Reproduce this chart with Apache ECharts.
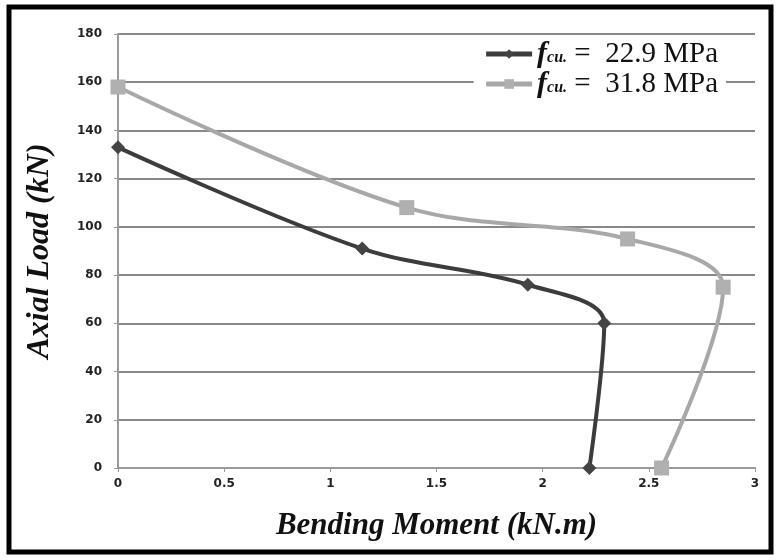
<!DOCTYPE html>
<html>
<head>
<meta charset="utf-8">
<script src="https://cdn.jsdelivr.net/npm/echarts@6/dist/echarts.min.js"></script>
<style>
html,body{margin:0;padding:0;background:#fff;}
#chart{width:776px;height:560px;}
</style>
</head>
<body>
<div id="chart"></div>
<script>
var xTicks = [0, 0.5, 1, 1.5, 2, 2.5, 3];
var yTicks = [0, 20, 40, 60, 80, 100, 120, 140, 160, 180];
var seriesNames = ['fcu. = 22.9 MPa', 'fcu. = 31.8 MPa'];
var moment229 = [0, 1.15, 1.93, 2.29, 2.22];
var load229 = [133, 91, 76, 60, 0];
var moment318 = [0, 1.36, 2.40, 2.85, 2.56];
var load318 = [158, 108, 95, 75, 0];

function pairs(xs, ys) {
    var out = [];
    for (var i = 0; i < xs.length; i++) out.push([xs[i], ys[i]]);
    return out;
}

(function(){
    var myChart = echarts.init(document.getElementById('chart'));
    var option = {
        backgroundColor: '#fff',
        animation: false,
        grid: { left: 118, right: 21, top: 34, bottom: 92 },
        graphic: [
            {
                type: 'rect',
                shape: { x: 9, y: 7, width: 762, height: 545 },
                style: { fill: 'none', stroke: '#000', lineWidth: 5 },
                z: 100
            }
        ],
        legend: {
            right: 50,
            top: 35,
            orient: 'vertical',
            backgroundColor: '#fff',
            padding: [4, 8, 4, 10],
            itemGap: 0,
            itemWidth: 46,
            itemHeight: 12,
            lineStyle: { width: 5 },
            data: seriesNames,
            formatter: function (name) {
                return '{f|f}{s|cu.}{t| ' + name.replace('fcu. ', '').replace('= ', '=  ') + '}';
            },
            textStyle: {
                rich: {
                    f: { fontFamily: 'Liberation Serif', fontStyle: 'italic', fontWeight: 'bold', fontSize: 30, lineHeight: 32, color: '#111' },
                    s: { fontFamily: 'Liberation Serif', fontStyle: 'italic', fontWeight: 'bold', fontSize: 16, lineHeight: 32, color: '#111', padding: [8, 0, 0, 0] },
                    t: { fontFamily: 'Liberation Serif', fontSize: 29, lineHeight: 32, color: '#111' }
                }
            }
        },
        xAxis: {
            type: 'value',
            min: 0,
            max: 3,
            interval: 0.5,
            name: 'Bending Moment (kN.m)',
            nameLocation: 'middle',
            nameGap: 42,
            nameTextStyle: { fontFamily: 'Liberation Serif', fontStyle: 'italic', fontWeight: 'bold', fontSize: 31, color: '#111' },
            axisLine: { show: true, lineStyle: { color: '#999', width: 2 } },
            axisTick: { show: true, length: 4, lineStyle: { color: '#999' } },
            axisLabel: {
                margin: 10,
                fontFamily: 'DejaVu Sans',
                fontWeight: 'bold',
                fontSize: 12,
                color: '#222',
                formatter: function (v) { return xTicks.indexOf(v) >= 0 ? String(v) : ''; }
            },
            splitLine: { show: false }
        },
        yAxis: {
            type: 'value',
            min: 0,
            max: 180,
            interval: 20,
            name: 'Axial Load (kN)',
            nameLocation: 'middle',
            nameGap: 62,
            nameTextStyle: { fontFamily: 'Liberation Serif', fontStyle: 'italic', fontWeight: 'bold', fontSize: 32, color: '#111' },
            axisLine: { show: true, lineStyle: { color: '#999', width: 2 } },
            axisTick: { show: true, length: 4, lineStyle: { color: '#999' } },
            axisLabel: {
                margin: 16,
                fontFamily: 'DejaVu Sans',
                fontWeight: 'bold',
                fontSize: 12,
                color: '#222',
                formatter: function (v) { return yTicks.indexOf(v) >= 0 ? String(v) : ''; }
            },
            splitLine: { show: true, lineStyle: { color: '#888', width: 2 } }
        },
        series: [
            {
                name: seriesNames[0],
                type: 'line',
                smooth: 0.35,
                symbol: 'diamond',
                symbolSize: 14,
                data: pairs(moment229, load229),
                lineStyle: { color: '#3c3c3c', width: 4 },
                itemStyle: { color: '#444' },
                z: 3
            },
            {
                name: seriesNames[1],
                type: 'line',
                smooth: 0.35,
                symbol: 'rect',
                symbolSize: 15,
                data: pairs(moment318, load318),
                lineStyle: { color: '#a8a8a8', width: 4 },
                itemStyle: { color: '#b0b0b0' },
                z: 2
            }
        ]
    };
    myChart.setOption(option);
    window.addEventListener('resize', function(){ myChart.resize(); });
})();
</script>
</body>
</html>
